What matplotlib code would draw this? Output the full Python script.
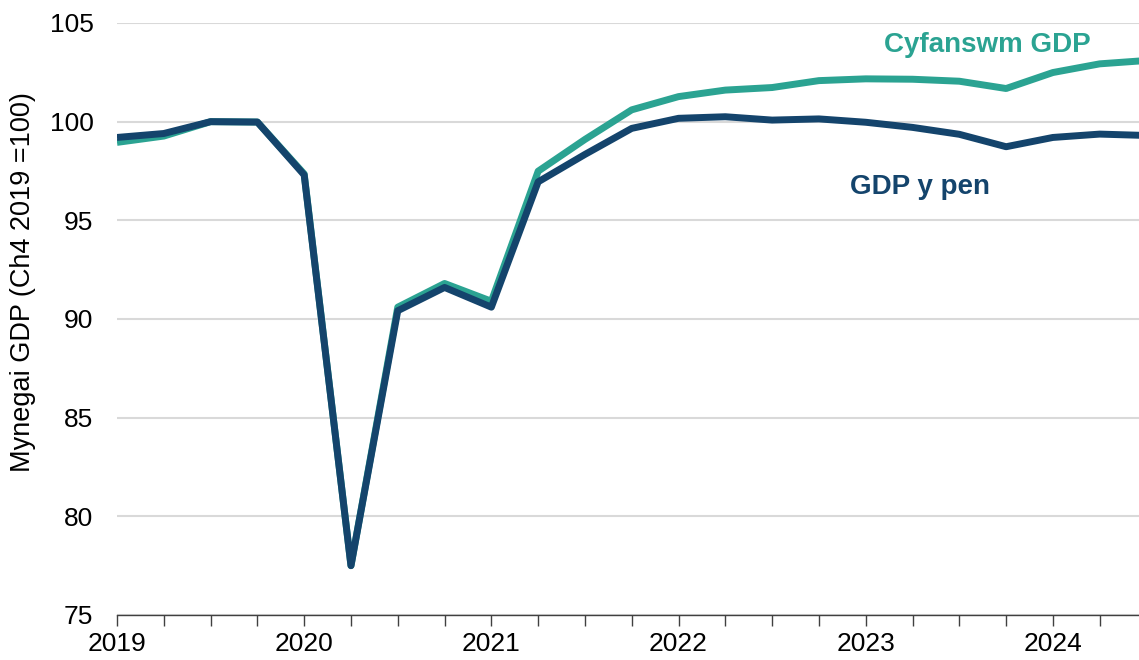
import matplotlib.pyplot as plt

plt.rcParams['font.family'] = ['Liberation Sans', 'DejaVu Sans']

# quarterly index, 2019 Q1 to 2024 Q3 (Ch4 2019 = 100)
quarters = list(range(23))
total_gdp = [98.95, 99.27, 100.0, 99.98, 97.35, 77.5, 90.6, 91.8, 90.9,
             97.49, 99.1, 100.6, 101.27, 101.6, 101.73, 102.08, 102.17,
             102.15, 102.05, 101.68, 102.49, 102.93, 103.1]
gdp_per_head = [99.2, 99.4, 100.0, 99.98, 97.3, 77.5, 90.42, 91.6, 90.6,
                96.95, 98.34, 99.66, 100.17, 100.25, 100.08, 100.14, 99.97,
                99.71, 99.36, 98.73, 99.2, 99.37, 99.3]
year_ticks = [0, 4, 8, 12, 16, 20]
year_labels = ['2019', '2020', '2021', '2022', '2023', '2024']

teal = '#2ba392'
navy = '#14446c'

fig = plt.figure(figsize=(11.39, 6.6), dpi=100)
ax = fig.add_axes([117 / 1139, 45 / 660, 1 - 117 / 1139, 592 / 660])

ax.plot(quarters, total_gdp, color=teal, lw=5, solid_joinstyle='round', solid_capstyle='butt')
ax.plot(quarters, gdp_per_head, color=navy, lw=5, solid_joinstyle='round', solid_capstyle='butt')

ax.set_ylim(75, 105)
ax.set_xlim(0, 21.84)
ax.set_yticks([75, 80, 85, 90, 95, 100, 105])
ax.yaxis.grid(True, color='#d9d9d9', lw=1.5)
ax.set_axisbelow(True)
ax.tick_params(axis='y', length=0, pad=17, labelsize=19)

ax.set_xticks(year_ticks)
ax.set_xticklabels(year_labels)
ax.set_xticks(quarters[:22], minor=True)
ax.tick_params(axis='x', which='both', direction='out', length=8, width=1,
               color='#404040', labelsize=19, pad=4)

for side in ['top', 'right', 'left']:
    ax.spines[side].set_visible(False)
ax.spines['bottom'].set_color('#404040')
ax.spines['bottom'].set_linewidth(1)

ax.set_ylabel('Mynegai GDP (Ch4 2019 =100)', fontsize=19.5)
ax.yaxis.set_label_coords(-0.079, 0.5625)

ax.text(18.6, 103.9, 'Cyfanswm GDP', color=teal, fontsize=20, fontweight='bold',
        ha='center', va='center')
ax.text(17.16, 96.7, 'GDP y pen', color=navy, fontsize=20, fontweight='bold',
        ha='center', va='center')

fig.savefig('out.png', dpi=100)
